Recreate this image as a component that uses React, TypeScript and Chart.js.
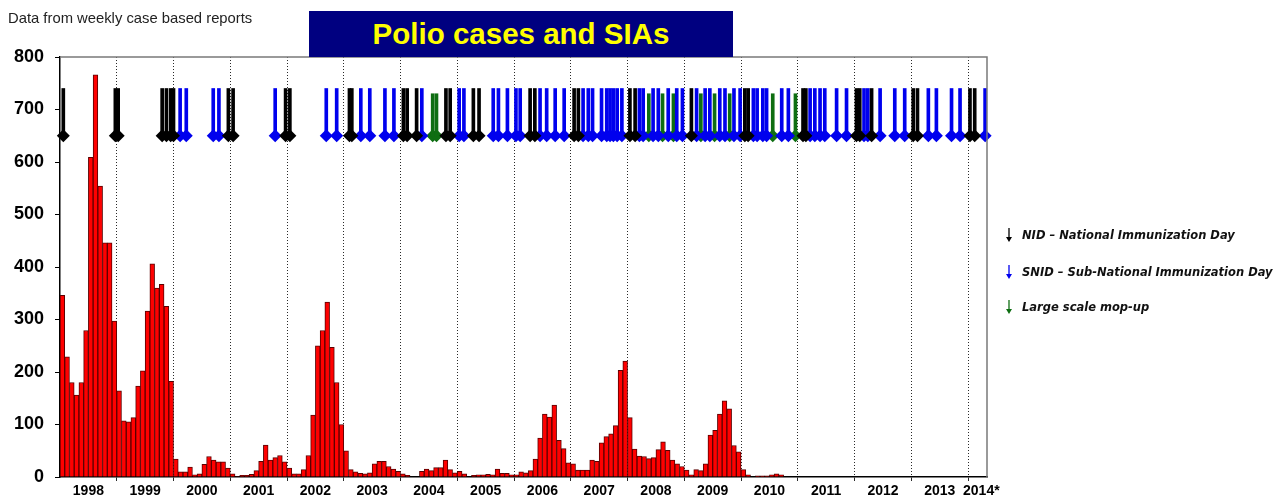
import React, { useEffect, useRef } from 'react';
import { Chart, registerables } from 'chart.js';

Chart.register(...registerables);

// ---- Data ----
const yearLabels = ['1998', '1999', '2000', '2001', '2002', '2003', '2004', '2005', '2006', '2007', '2008', '2009', '2010', '2011', '2012', '2013', '2014*'];

const cases1998 = [346, 229, 180, 156, 180, 279, 609, 766, 554, 446, 446, 297];
const cases1999 = [164, 107, 105, 113, 173, 202, 316, 406, 360, 367, 325, 182];
const cases2000 = [34, 10, 10, 19, 4, 6, 24, 39, 32, 29, 29, 17];
const cases2001 = [6, 1, 3, 3, 5, 12, 30, 61, 32, 37, 41, 29];
const cases2002 = [17, 6, 6, 14, 41, 118, 250, 279, 333, 247, 180, 100];
const cases2003 = [50, 14, 10, 7, 6, 8, 25, 30, 30, 20, 15, 11];
const cases2004 = [6, 3, 0, 0, 11, 15, 12, 18, 18, 32, 14, 8];
const cases2005 = [11, 6, 0, 3, 4, 4, 5, 4, 15, 7, 7, 4];
const cases2006 = [4, 10, 8, 12, 34, 74, 120, 114, 137, 70, 54, 27];
const cases2007 = [25, 13, 13, 13, 32, 30, 65, 77, 82, 98, 203, 221];
const cases2008 = [113, 53, 40, 39, 35, 37, 52, 67, 51, 32, 25, 20];
const cases2009 = [13, 4, 14, 12, 25, 80, 89, 120, 145, 130, 60, 48];
const cases2010 = [14, 4, 0, 2, 2, 2, 4, 6, 4, 0, 0, 0];
const cases2011 = [0, 0, 0, 0, 0, 0, 0, 0, 0, 0, 0, 0];
const cases2012 = [0, 0, 0, 0, 0, 0, 0, 0, 0, 0, 0, 0];
const cases2013 = [0, 0, 0, 0, 0, 0, 0, 0, 0, 0, 0, 0];
const cases2014 = [0, 0, 0, 0];

// SIA timing, in months since January 1998
const nidMonths = [0.7, 11.7, 12.3, 21.6, 22.5, 23.4, 24.0, 35.6, 36.6, 47.7, 48.6, 61.2, 61.7, 72.6, 73.4, 75.4, 81.6, 82.5, 87.4, 88.6, 99.4, 100.4, 108.7, 109.6, 120.5, 121.6, 133.5, 144.8, 145.5, 157.1, 157.7, 168.4, 169.1, 171.6, 180.4, 181.3, 192.4, 193.4];
const snidMonths = [25.4, 26.7, 32.4, 33.6, 45.5, 56.3, 58.5, 63.6, 65.5, 68.7, 70.6, 76.5, 84.4, 85.4, 91.6, 92.7, 94.6, 96.4, 97.3, 101.5, 102.9, 104.7, 106.6, 110.6, 111.7, 112.6, 114.5, 115.6, 116.3, 117.0, 117.8, 118.8, 122.5, 123.3, 125.4, 126.5, 128.6, 130.4, 131.6, 134.6, 136.4, 137.4, 139.5, 140.6, 142.5, 143.8, 146.6, 147.4, 148.6, 149.4, 152.6, 154.0, 158.6, 159.6, 160.7, 161.7, 164.2, 166.3, 170.0, 170.8, 173.4, 176.5, 178.6, 183.6, 185.3, 188.5, 190.3, 195.6];
const mopupMonths = [78.8, 79.6, 124.5, 127.4, 129.7, 135.5, 138.4, 141.6, 150.7, 155.5];

const arrowBase = 650;
const arrowTop = 740;
const mopupTop = 730;

const yearBoundaries = [12, 24, 36, 48, 60, 72, 84, 96, 108, 120, 132, 144, 156, 168, 180, 192];
const yearLabelPositions = [6, 18, 30, 42, 54, 66, 78, 90, 102, 114, 126, 138, 150, 162, 174, 186, 194.8];

const allCases = [
  ...cases1998, ...cases1999, ...cases2000, ...cases2001, ...cases2002, ...cases2003,
  ...cases2004, ...cases2005, ...cases2006, ...cases2007, ...cases2008, ...cases2009,
  ...cases2010, ...cases2011, ...cases2012, ...cases2013, ...cases2014,
];
const totalMonths = allCases.length;

const NID_COLOR = '#000000';
const SNID_COLOR = '#0000ee';
const MOP_COLOR = '#0e6e12';

function arrowSets(months: number[], top: number, color: string) {
  return [
    {
      type: 'bar' as const,
      data: months.map((m) => ({ x: m, y: [arrowBase, top] })),
      xAxisID: 'x2',
      yAxisID: 'y',
      backgroundColor: color,
      borderWidth: 0,
      barThickness: 3,
      grouped: false,
      clip: false,
    },
    {
      type: 'scatter' as const,
      data: months.map((m) => ({ x: m, y: arrowBase })),
      xAxisID: 'x2',
      yAxisID: 'y',
      pointStyle: 'rectRot',
      pointRadius: 6.5,
      backgroundColor: color,
      borderColor: color,
      borderWidth: 0,
      showLine: false,
      clip: false,
    },
  ];
}

const framePlugin = {
  id: 'frame',
  afterDraw(chart: any) {
    const { ctx, chartArea: a } = chart;
    ctx.save();
    ctx.strokeStyle = '#7a7a7a';
    ctx.lineWidth = 1.5;
    ctx.beginPath();
    ctx.moveTo(a.left, a.top);
    ctx.lineTo(a.right, a.top);
    ctx.lineTo(a.right, a.bottom);
    ctx.stroke();
    ctx.restore();
  },
};

function LegendArrow({ color }: { color: string }) {
  return (
    <svg width="12" height="14" viewBox="0 0 12 14" style={{ display: 'block' }}>
      <line x1="6" y1="0" x2="6" y2="10" stroke={color} strokeWidth="1.3" />
      <polygon points="3,9 9,9 6,14" fill={color} />
    </svg>
  );
}

export default function App() {
  const canvasRef = useRef<HTMLCanvasElement | null>(null);

  useEffect(() => {
    document.body.style.margin = '0';
    const canvas = canvasRef.current;
    if (!canvas) return;
    const barData = allCases.map((v, i) => ({ x: i + 0.5, y: v }));
    const tickValues = [...yearBoundaries, ...yearLabelPositions].sort((a, b) => a - b);

    const chart = new Chart(canvas, {
      type: 'bar',
      data: {
        datasets: [
          {
            type: 'bar',
            label: 'Polio cases',
            data: barData as any,
            xAxisID: 'x',
            yAxisID: 'y',
            backgroundColor: '#ff0000',
            borderColor: '#5a0000',
            borderWidth: 1,
            barPercentage: 1,
            categoryPercentage: 1,
            grouped: false,
          },
          ...(arrowSets(nidMonths, arrowTop, NID_COLOR) as any[]),
          ...(arrowSets(snidMonths, arrowTop, SNID_COLOR) as any[]),
          ...(arrowSets(mopupMonths, mopupTop, MOP_COLOR) as any[]),
        ],
      },
      options: {
        animation: false,
        responsive: false,
        devicePixelRatio: 1,
        layout: { padding: { left: 0, right: 288, top: 57, bottom: 0 } },
        plugins: {
          legend: { display: false },
          tooltip: { enabled: false },
          title: { display: false },
        },
        scales: {
          x: {
            type: 'linear',
            min: 0,
            max: totalMonths,
            offset: false,
            position: 'bottom',
            afterBuildTicks: (s: any) => {
              s.ticks = tickValues.map((v) => ({ value: v }));
            },
            afterFit: (s: any) => {
              s.height = 24;
            },
            ticks: {
              autoSkip: false,
              maxRotation: 0,
              minRotation: 0,
              padding: 2,
              color: '#000',
              font: { family: "'Liberation Sans', Arial, sans-serif", size: 14, weight: 'bold' },
              callback: (v: any) => {
                const idx = yearLabelPositions.indexOf(Number(v));
                return idx >= 0 ? yearLabels[idx] : '';
              },
            },
            grid: {
              offset: false,
              drawOnChartArea: true,
              lineWidth: 1,
              tickLength: 4,
              color: (c: any) =>
                c.tick && yearBoundaries.includes(c.tick.value) ? '#2a2a2a' : 'rgba(0,0,0,0)',
            },
            border: { display: true, color: '#000', width: 1.5, dash: [1, 2] },
          } as any,
          x2: {
            type: 'linear',
            min: 0,
            max: totalMonths,
            offset: false,
            display: false,
            grid: { offset: false },
          } as any,
          y: {
            type: 'linear',
            min: 0,
            max: 800,
            afterFit: (s: any) => {
              s.width = 60;
            },
            ticks: {
              stepSize: 100,
              padding: 11,
              color: '#000',
              font: { family: "'Liberation Sans', Arial, sans-serif", size: 18, weight: 'bold' },
            },
            grid: { display: true, drawOnChartArea: false, drawTicks: true, tickLength: 5, color: '#000' },
            border: { display: true, color: '#000', width: 1.5 },
          } as any,
        },
      },
      plugins: [framePlugin],
    });

    return () => chart.destroy();
  }, []);

  const legendFont = "'DejaVu Sans', Verdana, sans-serif";
  const legendItems = [
    { color: NID_COLOR, text: 'NID – National Immunization Day', y: 234.5 },
    { color: SNID_COLOR, text: 'SNID – Sub-National Immunization Day', y: 272 },
    { color: MOP_COLOR, text: 'Large scale mop-up', y: 307 },
  ];

  return (
    <div style={{ position: 'absolute', left: 0, top: 0, width: 1275, height: 501, background: '#fff', overflow: 'hidden' }}>
      <canvas ref={canvasRef} width={1275} height={501} style={{ position: 'absolute', left: 0, top: 0 }} />
      <div
        style={{
          position: 'absolute', left: 8, top: 10, lineHeight: '17px',
          fontFamily: "'Liberation Sans', Arial, sans-serif", fontSize: 14.8, color: '#222', whiteSpace: 'nowrap',
        }}
      >
        Data from weekly case based reports
      </div>
      <div
        style={{
          position: 'absolute', left: 309, top: 11, width: 424, height: 46, background: '#000080',
          color: '#ffff00', fontFamily: "'Liberation Sans', Arial, sans-serif", fontWeight: 'bold', fontSize: 29.5,
          display: 'flex', alignItems: 'center', justifyContent: 'center', whiteSpace: 'nowrap',
        }}
      >
        Polio cases and SIAs
      </div>
      {legendItems.map((it) => (
        <div
          key={it.text}
          style={{
            position: 'absolute', left: 1003, top: it.y - 8, height: 16, display: 'flex', alignItems: 'center',
            whiteSpace: 'nowrap',
          }}
        >
          <LegendArrow color={it.color} />
          <span
            style={{
              marginLeft: 7, fontFamily: legendFont, fontStyle: 'italic', fontWeight: 'bold', fontSize: 11.5,
              color: '#111',
            }}
          >
            {it.text}
          </span>
        </div>
      ))}
    </div>
  );
}
